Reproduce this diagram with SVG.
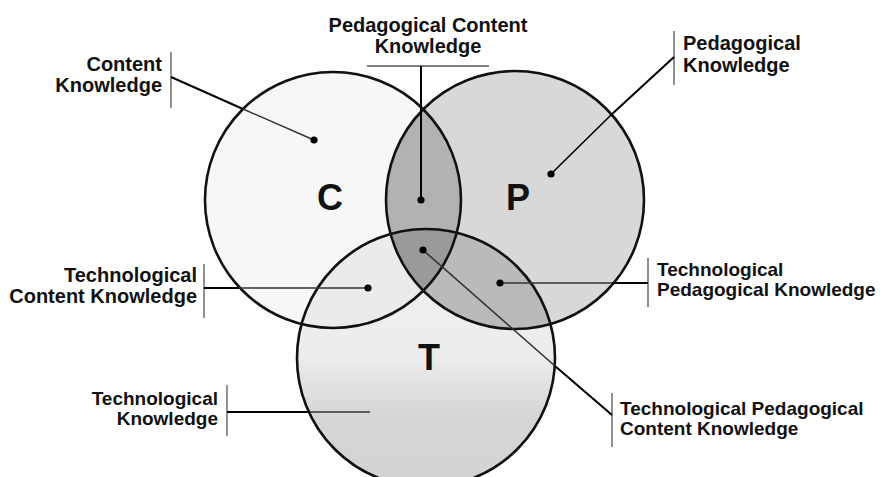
<svg xmlns="http://www.w3.org/2000/svg" width="891" height="477" viewBox="0 0 891 477">
  <style>
    .lbl { font-family: "Liberation Sans", Arial, sans-serif; font-weight: bold; font-size: 20px; fill: #111; }
    .sm { font-size: 19px; }
    .big { font-family: "Liberation Sans", Arial, sans-serif; font-weight: bold; font-size: 36px; fill: #111; text-anchor: middle; }
    .ring { fill: none; stroke: #111; stroke-width: 2.6; }
    .bar { stroke: #555; stroke-width: 1.3; fill: none; }
    .out { stroke: #000; stroke-width: 2; fill: none; }
    .in { stroke: #333; stroke-width: 1.4; fill: none; }
    .dot { fill: #000; }
  </style>
  <defs>
    <clipPath id="clipC"><circle cx="333" cy="200" r="128"/></clipPath>
    <clipPath id="clipP"><circle cx="515" cy="200" r="129"/></clipPath>
    <linearGradient id="gradT" x1="0" y1="0" x2="0" y2="1">
      <stop offset="0" stop-color="#f2f2f2"/>
      <stop offset="0.5" stop-color="#ececec"/>
      <stop offset="0.72" stop-color="#d6d6d6"/>
      <stop offset="1" stop-color="#d2d2d2"/>
    </linearGradient>
  </defs>
  <rect width="891" height="477" fill="#fff"/>

  <g id="fills">
    <circle cx="333" cy="200" r="128" fill="#f7f7f7"/>
    <circle cx="515" cy="200" r="129" fill="#d8d8d8"/>
    <circle cx="426" cy="358" r="129" fill="url(#gradT)"/>
    <circle cx="515" cy="200" r="129" fill="#b2b2b2" clip-path="url(#clipC)"/>
    <circle cx="426" cy="358" r="129" fill="#bababa" clip-path="url(#clipP)"/>
    <circle cx="426" cy="358" r="129" fill="#ebebeb" clip-path="url(#clipC)"/>
    <g clip-path="url(#clipP)">
      <circle cx="426" cy="358" r="129" fill="#9a9a9a" clip-path="url(#clipC)"/>
    </g>
  </g>

  <g id="node-C">
    <circle class="ring" cx="333" cy="200" r="128"/>
    <text class="big" x="330" y="210">C</text>
  </g>
  <g id="node-P">
    <circle class="ring" cx="515" cy="200" r="129"/>
    <text class="big" x="518" y="210">P</text>
  </g>
  <g id="node-T">
    <circle class="ring" cx="426" cy="358" r="129"/>
    <text class="big" x="429" y="370">T</text>
  </g>

  <g id="label-CK">
    <text class="lbl" text-anchor="end" x="162" y="71">Content</text>
    <text class="lbl" text-anchor="end" x="162" y="92">Knowledge</text>
    <line class="bar" x1="171" y1="52" x2="171" y2="108"/>
  </g>
  <g id="label-PCK">
    <text class="lbl" text-anchor="middle" x="428" y="32">Pedagogical Content</text>
    <text class="lbl" text-anchor="middle" x="428" y="53">Knowledge</text>
    <line class="bar" x1="367" y1="66" x2="489" y2="66"/>
  </g>
  <g id="label-PK">
    <text class="lbl" x="683" y="50">Pedagogical</text>
    <text class="lbl" x="683" y="72">Knowledge</text>
    <line class="bar" x1="674" y1="31" x2="674" y2="85"/>
  </g>
  <g id="label-TCK">
    <text class="lbl" text-anchor="end" x="197" y="282">Technological</text>
    <text class="lbl" text-anchor="end" x="197" y="303">Content Knowledge</text>
    <line class="bar" x1="204" y1="264" x2="204" y2="318"/>
  </g>
  <g id="label-TPK">
    <text class="lbl sm" x="657" y="276">Technological</text>
    <text class="lbl sm" x="657" y="296">Pedagogical Knowledge</text>
    <line class="bar" x1="648" y1="258" x2="648" y2="307"/>
  </g>
  <g id="label-TK">
    <text class="lbl sm" text-anchor="end" x="218" y="405">Technological</text>
    <text class="lbl sm" text-anchor="end" x="218" y="425">Knowledge</text>
    <line class="bar" x1="227" y1="385" x2="227" y2="436"/>
  </g>
  <g id="label-TPCK">
    <text class="lbl sm" x="620" y="415">Technological Pedagogical</text>
    <text class="lbl sm" x="620" y="435">Content Knowledge</text>
    <line class="bar" x1="612" y1="393" x2="612" y2="447"/>
  </g>

  <g id="connectors">
    <line class="out" x1="171" y1="77" x2="243" y2="109"/>
    <line class="in" x1="243" y1="109" x2="314" y2="140"/>
    <line class="out" x1="421" y1="66" x2="421" y2="200"/>
    <line class="out" x1="674" y1="57" x2="611" y2="115"/>
    <line class="out" style="stroke-width:1.6" x1="611" y1="115" x2="551" y2="174"/>
    <line class="out" x1="204" y1="288" x2="239" y2="288"/>
    <line class="in" x1="239" y1="288" x2="368" y2="288"/>
    <line class="out" x1="227" y1="412" x2="310" y2="412"/>
    <line class="in" x1="310" y1="412" x2="370" y2="412"/>
    <line class="out" x1="648" y1="283" x2="612" y2="283"/>
    <line class="in" x1="612" y1="283" x2="500" y2="283"/>
    <line class="out" x1="612" y1="415" x2="555" y2="366"/>
    <line class="in" style="stroke-width:1.6" x1="555" y1="366" x2="423" y2="250"/>
    <circle class="dot" cx="314" cy="140" r="3.6"/>
    <circle class="dot" cx="421" cy="200" r="3.6"/>
    <circle class="dot" cx="551" cy="174" r="3.6"/>
    <circle class="dot" cx="368" cy="288" r="3.6"/>
    <circle class="dot" cx="500" cy="283" r="3.6"/>
    <circle class="dot" cx="423" cy="250" r="3.6"/>
  </g>
</svg>
